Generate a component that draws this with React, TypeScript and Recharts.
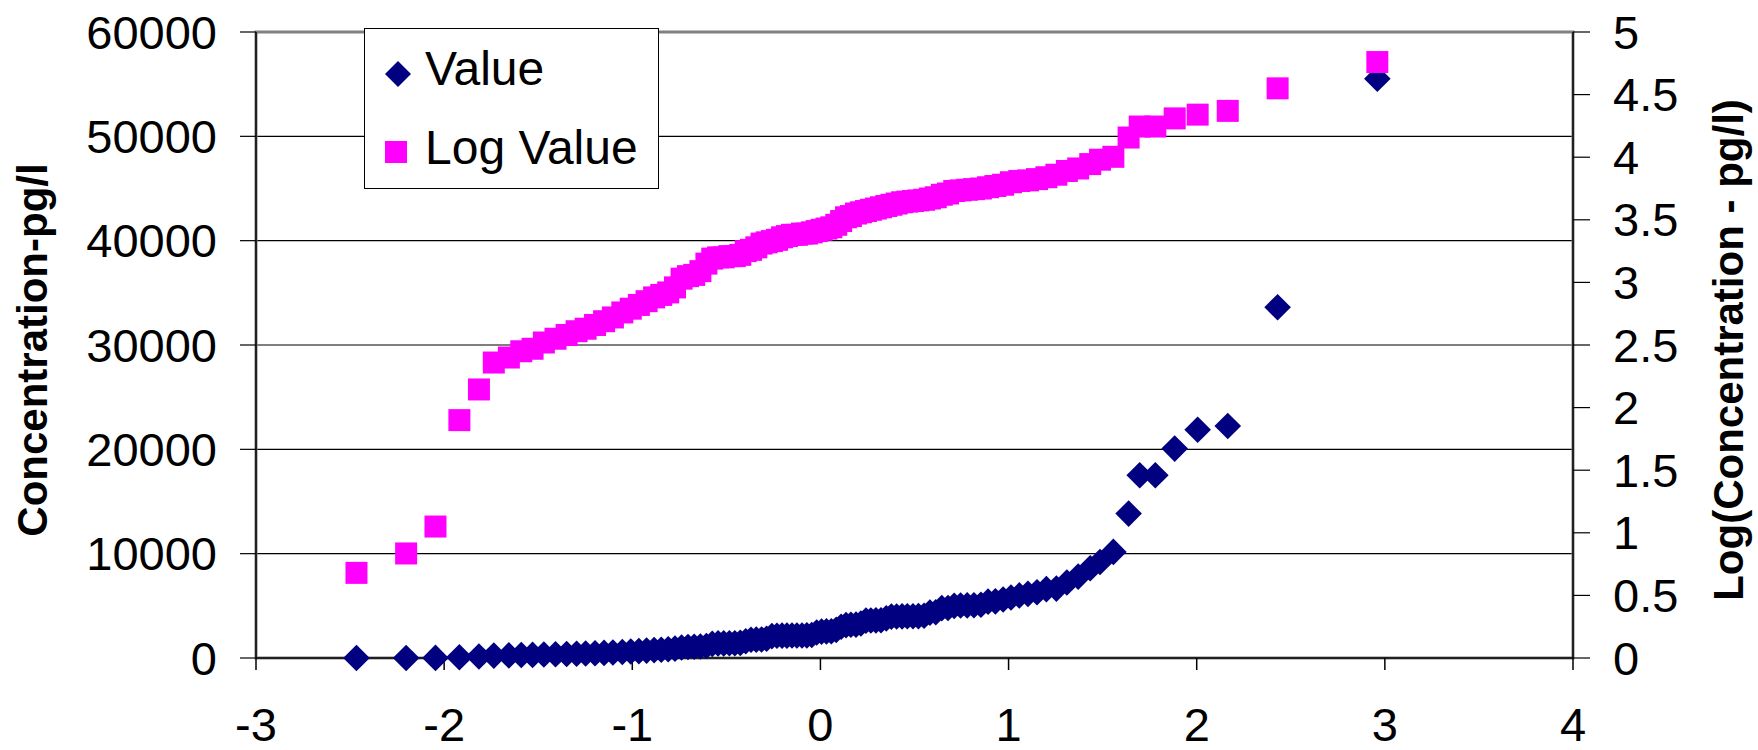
import React from "react";
import {
  ScatterChart,
  Scatter,
  XAxis,
  YAxis,
  CartesianGrid,
  ReferenceArea,
  Legend,
} from "recharts";

const FONT = "'Liberation Sans', Arial, Helvetica, sans-serif";

// normal scores (x) for each sample
const normalScores = [
  -2.466, -2.202, -2.046, -1.919, -1.815, -1.736, -1.656, -1.59, -1.53, -1.47,
  -1.408, -1.349, -1.296, -1.248, -1.198, -1.15, -1.103, -1.053, -1.008, -0.965,
  -0.924, -0.884, -0.846, -0.809, -0.773, -0.738, -0.704, -0.671, -0.638, -0.606,
  -0.575, -0.544, -0.514, -0.484, -0.455, -0.426, -0.397, -0.369, -0.341, -0.313,
  -0.286, -0.258, -0.231, -0.204, -0.178, -0.151, -0.125, -0.098, -0.072, -0.046,
  -0.02, 0.006, 0.032, 0.058, 0.084, 0.11, 0.136, 0.162, 0.189, 0.215,
  0.242, 0.268, 0.295, 0.322, 0.35, 0.377, 0.405, 0.434, 0.462, 0.492,
  0.521, 0.551, 0.582, 0.613, 0.645, 0.678, 0.711, 0.745, 0.78, 0.816,
  0.853, 0.891, 0.93, 0.971, 1.013, 1.057, 1.103, 1.151, 1.201, 1.254,
  1.31, 1.37, 1.434, 1.486, 1.557, 1.638, 1.697, 1.78, 1.883, 2.005,
  2.165, 2.43, 2.96,
];

// concentration, pg/l (left axis)
const concentration = [
  5, 7, 11, 79, 140, 229, 251, 282, 295, 331,
  355, 380, 407, 427, 457, 490, 525, 575, 617, 661,
  708, 759, 794, 832, 900, 1000, 1050, 1080, 1100, 1150,
  1350, 1400, 1400, 1420, 1420, 1450, 1600, 1750, 1760, 1780,
  1850, 2100, 2130, 2140, 2140, 2150, 2150, 2160, 2170, 2200,
  2450, 2530, 2550, 2560, 2700, 3000, 3150, 3190, 3200, 3300,
  3580, 3600, 3610, 3620, 3800, 3970, 3980, 3990, 4000, 4000,
  4010, 4050, 4350, 4380, 4780, 4790, 5000, 5030, 5040, 5050,
  5100, 5400, 5430, 5600, 5800, 6000, 6150, 6300, 6600, 6650,
  7240, 7800, 8600, 9200, 10170, 13840, 17510, 17510, 20070, 21880,
  22230, 33620, 55530,
];

// log(concentration) (right axis)
const logConcentration = [
  0.68, 0.835, 1.05, 1.9, 2.145, 2.36, 2.4, 2.45, 2.47, 2.52,
  2.55, 2.58, 2.61, 2.63, 2.66, 2.69, 2.72, 2.76, 2.79, 2.82,
  2.85, 2.88, 2.9, 2.92, 2.96, 3.03, 3.05, 3.06, 3.09, 3.15,
  3.19, 3.2, 3.2, 3.21, 3.21, 3.22, 3.25, 3.26, 3.28, 3.31,
  3.32, 3.33, 3.34, 3.36, 3.37, 3.38, 3.38, 3.39, 3.39, 3.4,
  3.41, 3.42, 3.43, 3.44, 3.46, 3.49, 3.52, 3.53, 3.55, 3.56,
  3.57, 3.58, 3.59, 3.6, 3.61, 3.62, 3.63, 3.64, 3.645, 3.65,
  3.655, 3.66, 3.67, 3.68, 3.7, 3.71, 3.73, 3.735, 3.74, 3.745,
  3.75, 3.76, 3.77, 3.78, 3.8, 3.81, 3.815, 3.825, 3.84, 3.86,
  3.89, 3.91, 3.945, 3.98, 4.003, 4.157, 4.245, 4.245, 4.31, 4.34,
  4.37, 4.55, 4.76,
];

const xTicks = [-3, -2, -1, 0, 1, 2, 3, 4];
const leftTicks = [0, 10000, 20000, 30000, 40000, 50000, 60000];
const rightTicks = [0, 0.5, 1, 1.5, 2, 2.5, 3, 3.5, 4, 4.5, 5];

const valuePoints = normalScores.map((x, i) => ({ x, y: concentration[i] }));
const logPoints = normalScores.map((x, i) => ({ x, y: logConcentration[i] }));

const NAVY = "#000080";
const MAGENTA = "#FF00FF";

const Diamond = (props: any) => {
  const { cx, cy } = props;
  const r = 13.3;
  return (
    <polygon
      points={`${cx},${cy - r} ${cx + r},${cy} ${cx},${cy + r} ${cx - r},${cy}`}
      fill={NAVY}
    />
  );
};

const Square = (props: any) => {
  const { cx, cy } = props;
  const s = 22;
  return <rect x={cx - s / 2} y={cy - s / 2} width={s} height={s} fill={MAGENTA} />;
};

const tickStyle = { fontSize: 47, fill: "#000", fontFamily: FONT };

const LegendBox = () => (
  <svg width={296} height={162} style={{ display: "block" }}>
    <rect x={0.5} y={0.5} width={294} height={160} fill="#fff" stroke="#000" />
    <polygon points="34,33 47,46 34,59 21,46" fill={NAVY} />
    <text x={61} y={57} fontSize={48} fontFamily={FONT} fill="#000">
      Value
    </text>
    <rect x={21} y={113} width={22} height={22} fill={MAGENTA} />
    <text x={61} y={136} fontSize={48} fontFamily={FONT} fill="#000">
      Log Value
    </text>
  </svg>
);

const LeftTitle = () => (
  <text
    x={32}
    y={350}
    transform="rotate(-90, 32, 350)"
    textAnchor="middle"
    dominantBaseline="central"
    fontSize={42}
    fontWeight="bold"
    fontFamily={FONT}
    fill="#000"
  >
    Concentration-pg/l
  </text>
);

const RightTitle = () => (
  <text
    x={1728}
    y={350}
    transform="rotate(-90, 1728, 350)"
    textAnchor="middle"
    dominantBaseline="central"
    fontSize={42}
    fontWeight="bold"
    fontFamily={FONT}
    fill="#000"
  >
    Log(Concentration - pg/l)
  </text>
);

export default function App() {
  return (
    <div
      style={{
        position: "absolute",
        left: 0,
        top: 0,
        width: 1758,
        height: 750,
        overflow: "hidden",
        background: "#fff",
      }}
    >
      <ScatterChart
        width={1758}
        height={750}
        margin={{ top: 32, right: 0, bottom: 0, left: 0 }}
      >
        <CartesianGrid
          yAxisId="left"
          vertical={false}
          horizontal
          stroke="#000"
          strokeWidth={1.2}
        />
        <ReferenceArea
          yAxisId="left"
          x1={-3}
          x2={4}
          y1={0}
          y2={60000}
          fill="none"
          stroke="#808080"
          strokeWidth={3}
        />
        <XAxis
          dataKey="x"
          type="number"
          domain={[-3, 4]}
          ticks={xTicks}
          interval={0}
          height={92}
          tickSize={12}
          tickMargin={38}
          tick={tickStyle}
          axisLine={{ stroke: "#000", strokeWidth: 1.5 }}
          tickLine={{ stroke: "#000", strokeWidth: 1.5 }}
        />
        <YAxis
          yAxisId="left"
          orientation="left"
          dataKey="y"
          type="number"
          domain={[0, 60000]}
          ticks={leftTicks}
          interval={0}
          width={256}
          tickSize={16}
          tickMargin={23}
          tick={tickStyle}
          axisLine={{ stroke: "#000", strokeWidth: 1.5 }}
          tickLine={{ stroke: "#000", strokeWidth: 1.2 }}
          label={{ content: () => <LeftTitle /> }}
        />
        <YAxis
          yAxisId="right"
          orientation="right"
          dataKey="y"
          type="number"
          domain={[0, 5]}
          ticks={rightTicks}
          interval={0}
          width={185}
          tickSize={17}
          tickMargin={23}
          tick={tickStyle}
          axisLine={{ stroke: "#000", strokeWidth: 1.5 }}
          tickLine={{ stroke: "#000", strokeWidth: 1.2 }}
          label={{ content: () => <RightTitle /> }}
        />
        <Scatter
          name="Value"
          data={valuePoints}
          yAxisId="left"
          shape={Diamond}
          isAnimationActive={false}
        />
        <Scatter
          name="Log Value"
          data={logPoints}
          yAxisId="right"
          shape={Square}
          isAnimationActive={false}
        />
        <Legend
          layout="vertical"
          align="center"
          verticalAlign="middle"
          content={() => <LegendBox />}
          wrapperStyle={{ left: 364, top: 28, width: 296, height: 162 }}
        />
      </ScatterChart>
    </div>
  );
}
